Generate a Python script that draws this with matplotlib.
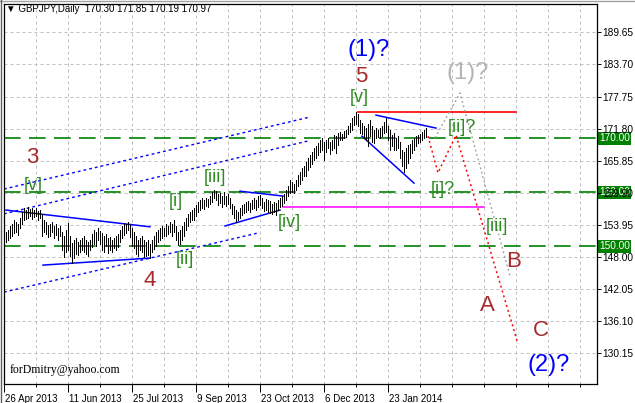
import matplotlib
matplotlib.use("Agg")
import matplotlib.pyplot as plt
import matplotlib.transforms as mtransforms
from matplotlib.lines import Line2D

# daily bars, 26 Apr 2013 .. Feb 2014 (bar index = trading day)
highs = [
    152.6, 153.0, 153.7, 154.1, 154.9, 154.5, 154.1, 155.2, 156.3, 157.1,
    156.7, 157.3, 156.9, 157.1, 156.7, 157.1, 156.5, 156.7, 156.0, 154.9,
    154.5, 153.9, 154.1, 154.5, 153.7, 154.1, 153.4, 153.7, 152.6, 151.9,
    153.0, 154.3, 151.9, 150.6, 151.1, 151.5, 150.8, 151.1, 151.5, 151.9,
    151.1, 150.8, 151.1, 152.3, 153.0, 152.6, 153.4, 152.8, 152.4, 151.9,
    152.3, 151.5, 151.7, 151.1, 151.5, 151.9, 152.3, 153.0, 153.7, 154.3,
    154.1, 154.5, 153.9, 153.4, 152.6, 151.9, 151.1, 151.5, 151.9, 151.1,
    150.8, 151.1, 150.4, 151.1, 151.9, 152.6, 153.0, 153.4, 153.7, 153.4,
    154.1, 153.7, 154.5, 154.1, 154.9, 153.7, 152.6, 153.0, 153.7, 154.5,
    155.2, 156.0, 156.3, 156.7, 157.1, 157.6, 158.2, 158.6, 158.9, 158.6,
    158.9, 158.7, 159.3, 160.0, 160.4, 160.2, 159.7, 159.9, 159.3, 160.0,
    159.3, 159.7, 158.9, 157.8, 157.5, 156.7, 156.3, 157.1, 157.6, 157.8,
    158.2, 158.4, 158.0, 158.6, 158.9, 158.6, 159.3, 159.5, 158.9, 158.2,
    158.7, 158.6, 158.4, 157.8, 158.2, 158.0, 158.6, 158.9, 159.3, 159.7,
    160.4, 161.2, 162.3, 161.9, 161.5, 162.3, 163.2, 163.7, 164.5, 164.9,
    165.6, 166.4, 166.9, 167.5, 168.2, 168.6, 169.1, 169.7, 170.1, 169.3,
    169.7, 170.1, 169.3, 169.7, 170.6, 170.4, 171.0, 171.2, 170.8, 171.4,
    171.5, 172.3, 172.8, 173.8, 174.1, 174.9, 174.5, 173.4, 172.8, 172.3,
    171.9, 172.7, 173.4, 172.3, 171.5, 171.9, 171.5, 171.9, 172.3, 173.0,
    173.8, 172.3, 171.5, 170.6, 171.0, 170.1, 170.4, 169.3, 167.8, 167.5,
    168.2, 168.8, 168.9, 169.7, 170.1, 170.4, 170.6, 170.8, 171.2, 171.5,
    171.85,
]
lows = [
    150.8, 151.1, 151.5, 151.9, 152.4, 152.6, 152.1, 153.4, 154.1, 154.9,
    155.0, 155.2, 155.6, 155.0, 155.4, 155.6, 154.9, 155.2, 151.9, 152.6,
    152.3, 151.7, 151.9, 152.6, 151.5, 152.1, 151.1, 151.9, 149.3, 148.0,
    148.9, 149.3, 148.2, 146.9, 147.8, 148.6, 148.4, 148.9, 149.3, 148.9,
    148.6, 148.2, 149.3, 149.9, 150.4, 150.0, 151.1, 150.4, 149.3, 148.9,
    150.0, 148.7, 149.3, 148.9, 149.7, 149.3, 149.9, 150.8, 151.5, 152.1,
    152.4, 153.0, 151.7, 150.0, 149.7, 148.6, 148.2, 149.3, 148.9, 148.0,
    148.2, 148.4, 147.8, 148.9, 149.5, 150.0, 150.8, 151.1, 151.5, 151.9,
    151.9, 152.3, 152.6, 151.9, 152.6, 151.1, 150.2, 150.4, 151.1, 151.9,
    153.0, 153.7, 154.5, 154.9, 154.9, 155.6, 156.3, 156.7, 157.1, 156.9,
    157.5, 157.3, 157.8, 158.2, 158.9, 158.6, 157.6, 158.0, 157.3, 157.8,
    157.5, 157.8, 157.1, 156.0, 155.2, 154.5, 154.9, 155.2, 155.8, 156.2,
    156.3, 156.7, 156.3, 156.9, 157.1, 156.7, 157.3, 157.6, 157.1, 156.5,
    156.7, 156.3, 156.2, 156.0, 156.3, 155.8, 156.7, 157.3, 157.5, 158.0,
    158.6, 159.3, 159.9, 160.0, 159.9, 160.4, 161.2, 161.5, 162.3, 163.0,
    163.0, 164.1, 164.7, 165.2, 166.0, 166.4, 166.9, 167.5, 167.8, 166.0,
    167.5, 168.2, 167.1, 167.8, 168.2, 167.3, 168.8, 169.7, 169.7, 170.1,
    170.2, 170.8, 171.2, 171.5, 172.5, 172.7, 172.3, 171.0, 170.8, 170.1,
    169.7, 168.6, 170.4, 169.3, 169.1, 170.1, 170.2, 170.1, 170.4, 171.0,
    171.2, 169.7, 167.8, 168.6, 167.8, 167.8, 168.2, 166.4, 164.9, 163.7,
    164.5, 165.4, 166.4, 167.3, 167.8, 168.6, 169.1, 169.3, 169.7, 170.1,
    170.19,
]

date_labels = ["26 Apr 2013", "11 Jun 2013", "25 Jul 2013", "9 Sep 2013",
               "23 Oct 2013", "6 Dec 2013", "23 Jan 2014"]
date_bars = [-1, 31, 63, 95, 127, 159, 191]
minor_bars = [15, 47, 79, 111, 143, 175, 207, 223, 239, 255, 271, 287]
price_ticks = [189.65, 183.70, 177.75, 171.80, 165.85, 159.90,
               153.95, 148.00, 142.05, 136.10, 130.15]
levels = [170.00, 160.00, 150.00]

# trend lines / channels (bar index, price)
chan_x = [-1, 152]
chan_upper = [160.6, 173.95]
chan_mid = [156.0, 169.6]
chan_low_x = [-1, 126]
chan_low = [141.5, 152.45]
solid_blue = [
    ([0, 72], [156.7, 153.6]),
    ([18.5, 72], [146.5, 147.8]),
    ([117, 138.5], [160.2, 159.3]),
    ([109.5, 137], [153.75, 156.7]),
    ([185, 215], [174.3, 171.9]),
    ([178, 204], [170.4, 161.7]),
]
top_x = [176, 255]
top_y = [174.9, 174.9]
mag_x = [138.5, 239]
mag_y = [157.3, 157.3]
red_path_x = [211, 216, 225, 256]
red_path_y = [170.4, 163.6, 170.6, 131.9]
gray_path_x = [214.5, 227, 252]
gray_path_y = [170.1, 178.4, 144.5]

# wave labels: text, bar, price, colour, size
BROWN = "#a52a2a"
GREEN = "#2e8b22"
wave_labels = [
    ("3", 13, 166.5, BROWN, 16),
    ("[v]", 13.75, 161.2, GREEN, 13),
    ("[i]", 85, 158.3, GREEN, 13),
    ("[iii]", 104.5, 162.7, GREEN, 13),
    ("[ii]", 89.5, 147.5, GREEN, 13),
    ("[iv]", 141.5, 154.4, GREEN, 13),
    ("4", 72, 143.7, BROWN, 16),
    ("5", 177.5, 181.4, BROWN, 16),
    ("(1)?", 181.25, 186.4, "#0000ff", 17),
    ("[v]", 176.5, 177.5, GREEN, 13),
    ("(1)?", 231, 182.1, "#b4b4b4", 17),
    ("[ii]?", 228, 172.0, GREEN, 13),
    ("[i]?", 218.25, 160.6, GREEN, 13),
    ("[iii]", 245.25, 153.66, GREEN, 13),
    ("B", 254, 147.2, BROWN, 16),
    ("A", 240.75, 139.0, BROWN, 16),
    ("C", 267.25, 134.3, BROWN, 16),
    ("(2)?", 271.5, 128.0, "#0000ff", 17),
]

plt.rcParams["font.family"] = ["Liberation Sans", "DejaVu Sans"]

fig = plt.figure(figsize=(6.35, 4.03), dpi=100)
ax = fig.add_axes([4 / 635, 19 / 403, 593 / 635, 380 / 403])
ax.set_xlim(-1, 295.5)
ax.set_ylim(124.46, 194.90)

# grid
ax.set_xticks(date_bars)
ax.set_xticklabels(date_labels, fontsize=7)
ax.set_xticks(minor_bars, minor=True)
ax.set_yticks(price_ticks)
ax.set_yticklabels([f"{p:.2f}" for p in price_ticks], fontsize=7.3)
ax.yaxis.tick_right()
ax.grid(True, which="both", axis="x", color="#c0c0c0", lw=0.72,
        linestyle=(0, (3, 3)))
ax.grid(True, which="major", axis="y", color="#c0c0c0", lw=0.72,
        linestyle=(0, (3, 3)))
ax.tick_params(axis="x", which="major", length=6, width=0.7, pad=1,
               direction="out")
ax.tick_params(axis="x", which="minor", length=2.5, width=0.7,
               direction="out")
ax.tick_params(axis="y", length=3, width=0.7, pad=1, direction="out")
offset = mtransforms.ScaledTranslation(1 / 100, 0, fig.dpi_scale_trans)
for lbl in ax.get_xticklabels():
    lbl.set_horizontalalignment("left")
    lbl.set_transform(lbl.get_transform() + offset)
for s in ax.spines.values():
    s.set_linewidth(0.9)
    s.set_color("black")

# levels
for lvl in levels:
    ax.axhline(lvl, color="#008000", lw=1.2, linestyle=(0, (10, 5)), zorder=2)
    ax.text(1.003, lvl, f"{lvl:.2f}",
            transform=mtransforms.blended_transform_factory(ax.transAxes, ax.transData),
            ha="left", va="center", color="white", fontsize=7.3, zorder=1,
            clip_on=False,
            bbox=dict(boxstyle="square,pad=0.15", fc="#008000", ec="none"))

# channels
dot = (0, (2, 2.2))
ax.plot(chan_x, chan_upper, color="#0000ff", lw=1, linestyle=dot)
ax.plot(chan_x, chan_mid, color="#0000ff", lw=1, linestyle=dot)
ax.plot(chan_low_x, chan_low, color="#0000ff", lw=1, linestyle=dot)
for xs, ys in solid_blue:
    ax.plot(xs, ys, color="#0000ff", lw=1.1)
ax.plot(top_x, top_y, color="#ff0000", lw=1.2)
ax.plot(mag_x, mag_y, color="#ff00ff", lw=1.1)

# bars
ax.vlines(range(len(highs)), lows, highs, color="black", lw=0.72,
          antialiased=False, zorder=3)

# projections
ax.plot(red_path_x, red_path_y, color="#ff0000", lw=1.1, linestyle=(0, (1.3, 2)))
ax.plot(gray_path_x, gray_path_y, color="#a0a0a0", lw=1, linestyle=(0, (1.3, 2)))

for txt, bx, py, col, size in wave_labels:
    ax.text(bx, py, txt, color=col, fontsize=size, ha="center", va="center",
            zorder=5)

ax.text(2, 127.1, "forDmitry@yahoo.com", fontsize=8.5, family="Liberation Serif",
        ha="left", va="center")

fig.text(6 / 635, 1 - 9 / 403, "▼ GBPJPY,Daily  170.30 171.85 170.19 170.97",
         fontsize=7, ha="left", va="center",
         family=["Liberation Sans", "DejaVu Sans"])

# window frame
fig.add_artist(Line2D([0, 1], [1 - 0.5 / 403, 1 - 0.5 / 403], color="#a0a0a0", lw=1))
fig.add_artist(Line2D([0.5 / 635, 0.5 / 635], [0, 1], color="#606060", lw=1))

fig.savefig("out.png", dpi=100)
